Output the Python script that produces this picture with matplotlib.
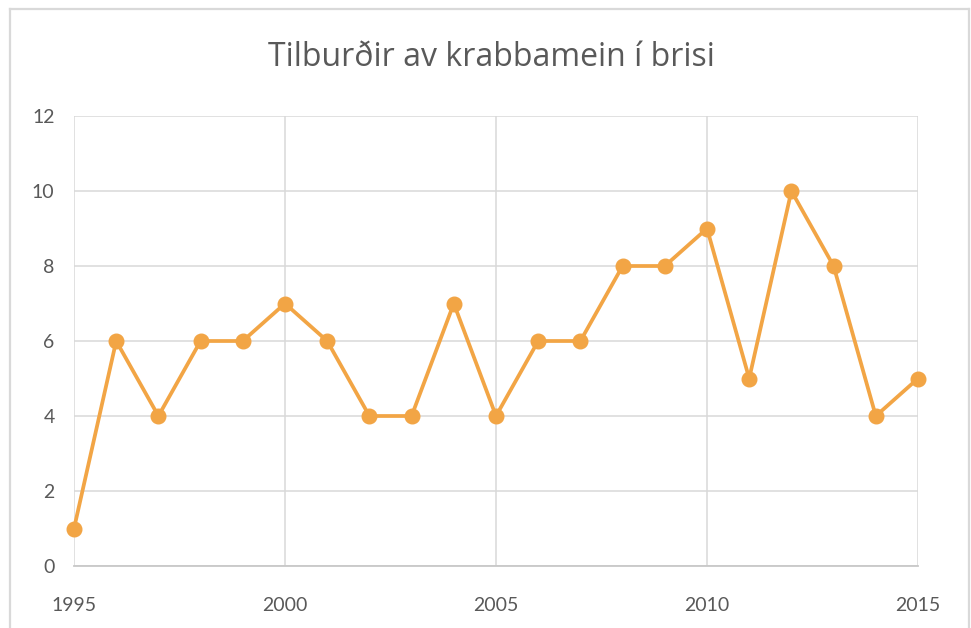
import matplotlib
matplotlib.use("Agg")
import matplotlib.pyplot as plt
from matplotlib.lines import Line2D

years = [1995, 1996, 1997, 1998, 1999, 2000, 2001, 2002, 2003, 2004, 2005,
         2006, 2007, 2008, 2009, 2010, 2011, 2012, 2013, 2014, 2015]
cases = [1, 6, 4, 6, 6, 7, 6, 4, 4, 7, 4, 6, 6, 8, 8, 9, 5, 10, 8, 4, 5]
x_ticks = [1995, 2000, 2005, 2010, 2015]
y_ticks = [0, 2, 4, 6, 8, 10, 12]
title = "Tilburðir av krabbamein í brisi"

plt.rcParams['font.family'] = ['Lato', 'DejaVu Sans']
text_color = '#595959'
grid_color = '#d9d9d9'
line_color = '#F2A545'

fig = plt.figure(figsize=(9.71, 6.28), dpi=100)
W, H = 971, 628
ax = fig.add_axes([74 / W, 1 - 566 / H, (918 - 74) / W, (566 - 116) / H])

ax.plot(years, cases, color=line_color, linewidth=2.7, marker='o',
        markersize=10.5, markerfacecolor=line_color, markeredgecolor=line_color,
        zorder=3, clip_on=False)

ax.set_xlim(1995, 2015)
ax.set_ylim(0, 12)
ax.set_xticks(x_ticks)
ax.set_yticks(y_ticks)
ax.grid(True, color=grid_color, linewidth=1.1)
ax.set_axisbelow(True)
for s in ['top', 'right', 'left']:
    ax.spines[s].set_visible(False)
ax.spines['bottom'].set_color('#c8c8c8')
ax.spines['bottom'].set_linewidth(1.3)
ax.tick_params(axis='both', length=0, labelsize=14, colors=text_color)
ax.tick_params(axis='x', pad=22)
ax.tick_params(axis='y', pad=14)

fig.text((265 + 717) / 2 / W, 1 - 58 / H, title, ha='center', va='center',
         fontsize=23, color=text_color, family=['Open Sans', 'DejaVu Sans'])

# chart border (bottom runs beyond the image)
bc = '#d9d9d9'
fig.add_artist(Line2D([10 / W, 10 / W], [0, 1 - 9 / H], transform=fig.transFigure, color=bc, linewidth=1.6))
fig.add_artist(Line2D([10 / W, 969 / W], [1 - 9 / H, 1 - 9 / H], transform=fig.transFigure, color=bc, linewidth=1.6))
fig.add_artist(Line2D([969 / W, 969 / W], [0, 1 - 9 / H], transform=fig.transFigure, color=bc, linewidth=1.6))

fig.savefig('out.png', dpi=100)
